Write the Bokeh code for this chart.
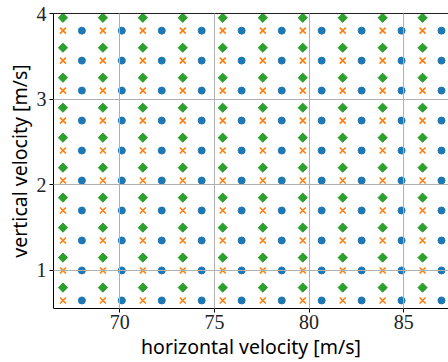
import itertools
from bokeh.plotting import figure
from bokeh.models import LinearAxis, FixedTicker, Range1d
from bokeh.embed import file_html
from bokeh.resources import INLINE
import math

# grid coordinates
blue_x = [68.0, 70.11, 72.22, 74.33, 76.44, 78.56, 80.67, 82.78, 84.89, 87.0]
blue_y = [0.65, 1.0, 1.35, 1.7, 2.05, 2.4, 2.75, 3.1, 3.45, 3.8]
orange_x = [67.0, 69.11, 71.22, 73.33, 75.44, 77.56, 79.67, 81.78, 83.89, 86.0]
orange_y = [0.65, 1.0, 1.35, 1.7, 2.05, 2.4, 2.75, 3.1, 3.45, 3.8]
green_x = [67.0, 69.11, 71.22, 73.33, 75.44, 77.56, 79.67, 81.78, 83.89, 86.0]
green_y = [0.8, 1.15, 1.5, 1.85, 2.2, 2.55, 2.9, 3.25, 3.6, 3.95]
x_ticks = [70, 75, 80, 85]
y_ticks = [1, 2, 3, 4]


def grid(xs, ys):
    pts = list(itertools.product(xs, ys))
    return [p[0] for p in pts], [p[1] for p in pts]


p = figure(width=448, height=362, output_backend="svg", toolbar_location=None,
           x_range=Range1d(66.5, 87.37), y_range=Range1d(0.556, 4.0),
           min_border_left=53, min_border_right=0, min_border_top=13,
           min_border_bottom=54)
p.outline_line_color = None
p.background_fill_color = "white"

bx, by = grid(blue_x, blue_y)
ox, oy = grid(orange_x, orange_y)
gx, gy = grid(green_x, green_y)

p.scatter(bx, by, marker="circle", size=7, fill_color="#1f77b4", line_color="#1f77b4")
p.scatter(ox, oy, marker="x", size=8.5, line_color="#ff7f0e", line_width=1.6)
p.scatter(gx, gy, marker="square", size=6.5, angle=math.pi / 4,
          fill_color="#2ca02c", line_color="#2ca02c")

for ax in (p.xaxis[0], p.yaxis[0]):
    ax.major_tick_out = 4
    ax.major_tick_in = 0
    ax.minor_tick_out = 0
    ax.minor_tick_in = 0
    ax.axis_line_color = "black"
    ax.major_tick_line_color = "black"
    ax.major_label_text_font = "Liberation Serif"
    ax.major_label_text_font_size = "20px"
    ax.major_label_text_color = "#222222"
    ax.major_label_standoff = 2
    ax.axis_label_text_font = "Noto Sans"
    ax.axis_label_text_font_size = "19.5px"
    ax.axis_label_text_font_style = "normal"
    ax.axis_label_text_color = "black"
    ax.axis_label_standoff = 1

p.yaxis[0].major_label_standoff = 3

p.xaxis[0].ticker = FixedTicker(ticks=x_ticks)
p.yaxis[0].ticker = FixedTicker(ticks=y_ticks)
p.xaxis[0].axis_label = "horizontal velocity [m/s]"
p.yaxis[0].axis_label = "vertical velocity [m/s]"

top = LinearAxis(ticker=FixedTicker(ticks=[]), major_tick_out=0, major_tick_in=0,
                 minor_tick_out=0, minor_tick_in=0, major_label_text_font_size="0px",
                 axis_line_color="#222222")
p.add_layout(top, "above")

p.xgrid.ticker = FixedTicker(ticks=x_ticks)
p.ygrid.ticker = FixedTicker(ticks=y_ticks)
for g in (p.xgrid[0], p.ygrid[0]):
    g.grid_line_color = "#b0b0b0"
    g.grid_line_width = 1
    g.level = "overlay"

open("out.html", "w").write(file_html(p, INLINE))
